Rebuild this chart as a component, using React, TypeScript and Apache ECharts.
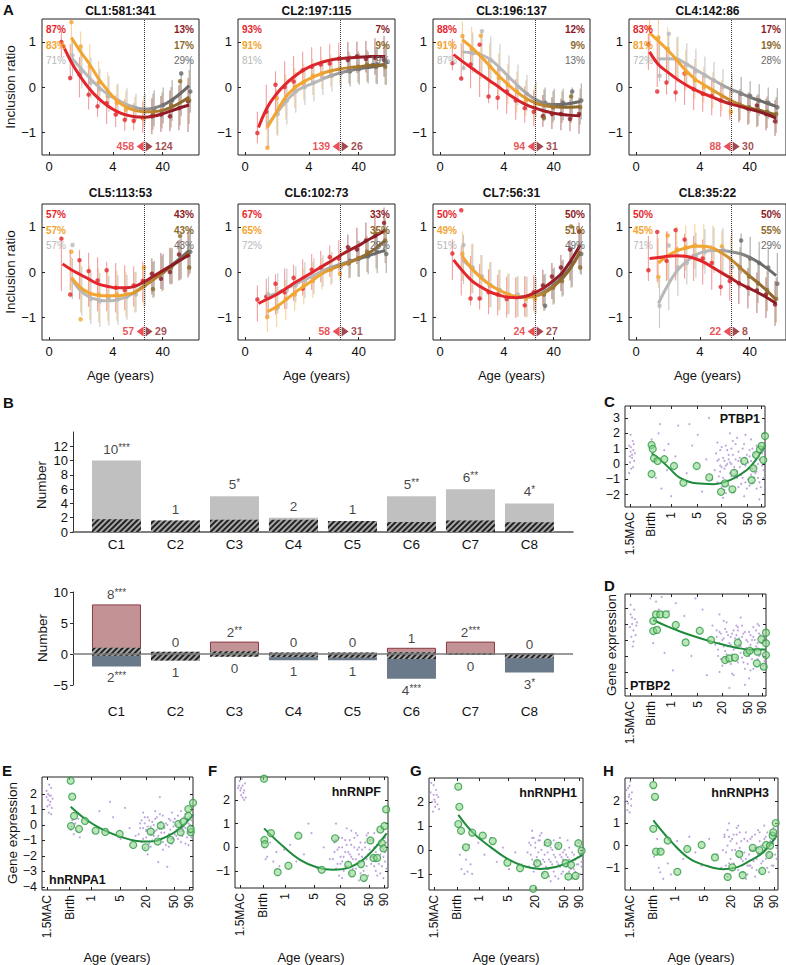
import React, { useEffect, useRef } from "react";
import * as echarts from "echarts";

const FONT = '"Liberation Sans", Arial, Helvetica, sans-serif';

// ================= Panel A data =================
const binAges = [0.008, 0.06, 0.24, 0.66, 1.46, 2.86, 5.06, 8.35, 13.0, 19.4, 28.0, 39.1, 53.1, 70.7, 92.4];
const splitAge = 20;
const ageTickValues = [0, 4, 40];
const clTitles = ["CL1:581:341", "CL2:197:115", "CL3:196:137", "CL4:142:86", "CL5:113:53", "CL6:102:73", "CL7:56:31", "CL8:35:22"];
const pctDev = [[87, 83, 71], [93, 91, 81], [88, 91, 87], [83, 81, 72], [57, 57, 57], [67, 65, 72], [50, 49, 51], [50, 45, 71]];
const pctAge = [[13, 17, 29], [7, 9, 19], [12, 9, 13], [17, 19, 28], [43, 43, 43], [33, 35, 28], [50, 51, 49], [50, 55, 29]];
const countDev = [458, 139, 94, 88, 57, 58, 24, 22];
const countAge = [124, 26, 31, 30, 29, 31, 27, 8];

const cl1Red = [0.95, 0.55, 0.22, -0.05, -0.26, -0.42, -0.54, -0.62, -0.66, -0.67, -0.65, -0.6, -0.53, -0.46, -0.4];
const cl1Orange = [null, 1.1, 0.78, 0.5, 0.18, -0.08, -0.3, -0.44, -0.52, -0.55, -0.55, -0.52, -0.45, -0.35, -0.22];
const cl1Gray = [null, 0.65, 0.42, 0.2, 0.0, -0.16, -0.28, -0.38, -0.45, -0.49, -0.47, -0.41, -0.3, -0.15, 0.03];
const cl1RedDots = [1.0, 0.2, 0.27, -0.17, -0.43, -0.36, -0.61, -0.73, -0.75, -0.69, -0.65, -0.61, -0.65, -0.47, -0.32];
const cl1OrangeDots = [null, 1.44, 0.9, 0.45, 0.1, -0.2, -0.35, -0.5, -0.5, -0.7, -0.6, -0.55, -0.4, 0.13, -0.3];
const cl1GrayDots = [null, 0.7, 0.35, 0.1, -0.05, -0.2, -0.3, -0.45, -0.5, -0.55, -0.5, -0.4, -0.3, 0.3, -0.1];
const cl1Err = [0.3, 0.4, 0.45, 0.45, 0.4, 0.4, 0.35, 0.35, 0.3, 0.35, 0.4, 0.4, 0.45, 0.5, 0.6];

const cl2Red = [-0.9, -0.45, -0.15, 0.07, 0.24, 0.38, 0.48, 0.55, 0.6, 0.63, 0.65, 0.66, 0.67, 0.68, 0.68];
const cl2Orange = [null, -0.9, -0.55, -0.22, -0.02, 0.12, 0.22, 0.3, 0.36, 0.4, 0.43, 0.45, 0.47, 0.48, 0.5];
const cl2Gray = [null, -0.85, -0.58, -0.33, -0.12, 0.0, 0.08, 0.17, 0.25, 0.31, 0.36, 0.4, 0.43, 0.46, 0.5];
const cl2RedDots = [-1.02, -0.55, 0.05, 0.0, 0.12, 0.37, 0.45, 0.5, 0.52, 0.63, 0.6, 0.68, 0.62, 0.65, 0.6];
const cl2OrangeDots = [null, -1.35, -0.25, -0.3, 0.0, 0.1, 0.25, 0.3, 0.35, 0.4, 0.4, 0.45, 0.5, 0.45, 0.45];
const cl2GrayDots = [null, -0.8, -0.6, -0.3, -0.1, 0.0, 0.1, 0.2, 0.25, 0.3, 0.35, 0.4, 0.45, 0.5, 0.55];
const cl2Err = [0.35, 0.5, 0.5, 0.5, 0.45, 0.4, 0.4, 0.35, 0.35, 0.35, 0.35, 0.35, 0.35, 0.4, 0.45];

const cl3Red = [0.72, 0.57, 0.42, 0.28, 0.14, 0.0, -0.15, -0.28, -0.39, -0.47, -0.53, -0.58, -0.61, -0.63, -0.64];
const cl3Orange = [null, 1.05, 0.88, 0.68, 0.47, 0.25, 0.06, -0.11, -0.25, -0.35, -0.41, -0.44, -0.45, -0.45, -0.44];
const cl3Gray = [null, 0.78, 0.76, 0.72, 0.62, 0.45, 0.25, 0.05, -0.13, -0.27, -0.36, -0.39, -0.39, -0.36, -0.32];
const cl3RedDots = [0.53, 0.19, 0.5, 0.94, -0.21, -0.24, -0.1, -0.3, -0.47, -0.55, -0.65, -0.6, -0.6, -0.71, -0.6];
const cl3OrangeDots = [null, 1.13, 0.85, 1.14, 0.45, 0.2, 0.05, -0.1, -0.3, -0.45, -0.69, -0.45, -0.4, -0.21, -0.45];
const cl3GrayDots = [null, 0.42, 0.75, 1.24, 0.6, 0.4, 0.2, 0.0, -0.15, -0.3, -0.35, -0.4, -0.35, -0.1, -0.3];
const cl3Err = [0.35, 0.4, 0.45, 0.5, 0.5, 0.5, 0.45, 0.45, 0.4, 0.4, 0.35, 0.35, 0.35, 0.35, 0.4];

const cl4Red = [0.78, 0.5, 0.33, 0.18, 0.05, -0.06, -0.15, -0.23, -0.31, -0.38, -0.43, -0.49, -0.54, -0.61, -0.69];
const cl4Orange = [1.2, 1.02, 0.82, 0.6, 0.37, 0.18, 0.05, -0.07, -0.19, -0.3, -0.39, -0.46, -0.51, -0.56, -0.62];
const cl4Gray = [null, 0.62, 0.63, 0.62, 0.52, 0.4, 0.28, 0.16, 0.05, -0.05, -0.13, -0.22, -0.29, -0.36, -0.43];
const cl4RedDots = [0.95, -0.1, 0.1, -0.12, 0.3, -0.05, -0.15, -0.2, -0.3, -0.35, -0.4, -0.48, -0.41, -0.6, -0.76];
const cl4OrangeDots = [1.33, 1.1, 0.85, 0.6, 0.3, 0.15, 0.0, -0.1, -0.2, -0.55, -0.4, -0.45, -0.5, -0.55, -0.6];
const cl4GrayDots = [null, 0.25, 1.18, 0.6, 0.5, 0.35, 0.25, 0.15, 0.0, -0.1, -0.15, -0.2, -0.3, -0.35, -0.45];
const cl4Err = [0.4, 0.5, 0.5, 0.5, 0.45, 0.45, 0.4, 0.4, 0.35, 0.35, 0.35, 0.35, 0.35, 0.35, 0.4];

const cl5Red = [0.18, 0.05, -0.06, -0.17, -0.27, -0.32, -0.35, -0.35, -0.32, -0.22, -0.1, 0.02, 0.14, 0.26, 0.38];
const cl5Orange = [null, -0.12, -0.35, -0.47, -0.52, -0.53, -0.53, -0.5, -0.45, -0.32, -0.18, -0.03, 0.12, 0.27, 0.43];
const cl5Gray = [null, -0.15, -0.42, -0.56, -0.62, -0.64, -0.62, -0.56, -0.45, -0.3, -0.15, 0.0, 0.14, 0.3, 0.48];
const cl5RedDots = [0.74, -0.5, 0.26, 0.02, -0.19, 0.04, -0.35, -0.4, -0.3, -0.2, -0.04, -0.15, 0.0, 0.39, 0.37];
const cl5OrangeDots = [null, 0.45, -1.05, -0.5, -0.5, -0.55, -0.5, -0.5, -0.45, 0.1, -0.38, 0.0, 0.1, 0.8, 0.1];
const cl5GrayDots = [null, 0.6, -0.4, -0.6, -0.65, -0.6, -0.6, -0.55, -0.5, -0.3, -0.1, 0.0, 0.15, 0.3, 0.45];
const cl5Err = [0.6, 0.45, 0.55, 0.6, 0.6, 0.55, 0.55, 0.5, 0.45, 0.45, 0.4, 0.4, 0.4, 0.45, 0.5];

const cl6Red = [-0.7, -0.6, -0.5, -0.37, -0.24, -0.12, 0.0, 0.12, 0.24, 0.36, 0.48, 0.58, 0.7, 0.81, 0.93];
const cl6Orange = [null, -0.88, -0.77, -0.62, -0.46, -0.32, -0.18, -0.04, 0.06, 0.14, 0.21, 0.3, 0.4, 0.53, 0.7];
const cl6Gray = [null, -0.55, -0.47, -0.37, -0.28, -0.18, -0.09, 0.02, 0.1, 0.17, 0.23, 0.29, 0.35, 0.42, 0.48];
const cl6RedDots = [-0.61, -0.55, -0.26, -0.45, -0.13, -0.37, 0.05, 0.1, 0.33, 0.3, 0.55, 0.5, 0.7, 0.8, 1.09];
const cl6OrangeDots = [null, -1.0, -0.8, -0.6, -0.5, -0.3, -0.2, 0.0, 0.05, -0.04, 0.2, 0.3, 0.45, 0.85, 0.7];
const cl6GrayDots = [null, -0.5, -0.78, -0.4, -0.3, -0.2, -0.1, 0.0, 0.1, 0.11, 0.25, 0.3, 0.35, 0.45, 0.4];
const cl6Err = [0.4, 0.45, 0.45, 0.45, 0.4, 0.4, 0.4, 0.35, 0.35, 0.35, 0.35, 0.4, 0.4, 0.45, 0.5];

const cl7Red = [0.27, 0.03, -0.19, -0.33, -0.44, -0.51, -0.56, -0.57, -0.54, -0.46, -0.35, -0.2, -0.02, 0.26, 0.6];
const cl7Orange = [null, 0.35, 0.08, -0.12, -0.28, -0.4, -0.49, -0.55, -0.56, -0.54, -0.47, -0.33, -0.15, 0.1, 0.46];
const cl7Gray = [null, 0.28, 0.08, -0.12, -0.28, -0.4, -0.49, -0.55, -0.55, -0.52, -0.44, -0.3, -0.12, 0.12, 0.44];
const cl7RedDots = [0.41, 1.37, -0.59, -0.59, -0.45, -0.5, -0.6, -0.55, -0.74, -0.45, -0.3, -0.1, 0.1, 0.5, 0.9];
const cl7OrangeDots = [null, 0.4, 0.1, -0.1, -0.3, -0.4, -0.5, -0.55, -0.6, -0.6, -0.5, -0.35, -0.2, 1.01, 0.1];
const cl7GrayDots = [null, 0.6, 0.1, -0.1, -0.3, -0.4, -0.5, -0.5, -0.55, -0.5, -0.75, -0.3, -0.1, 0.2, 0.4];
const cl7Err = [0.45, 0.55, 0.55, 0.5, 0.5, 0.45, 0.45, 0.45, 0.45, 0.4, 0.4, 0.4, 0.4, 0.45, 0.5];

const cl8Red = [0.3, 0.32, 0.35, 0.36, 0.35, 0.3, 0.22, 0.1, -0.02, -0.14, -0.26, -0.36, -0.46, -0.57, -0.7];
const cl8Orange = [null, 0.2, 0.36, 0.47, 0.53, 0.57, 0.57, 0.53, 0.42, 0.28, 0.1, -0.08, -0.24, -0.42, -0.62];
const cl8Gray = [null, -0.7, -0.3, 0.02, 0.22, 0.37, 0.45, 0.48, 0.48, 0.45, 0.41, 0.33, 0.22, 0.08, -0.08];
const cl8RedDots = [0.04, 0.89, 0.25, 0.93, 0.72, 0.35, 0.3, 0.2, -0.33, -0.2, -0.25, -0.35, -0.41, -0.5, -0.72];
const cl8OrangeDots = [null, -0.11, 0.81, 0.5, 0.55, 0.6, 0.55, 0.5, 0.57, -0.11, 0.1, -0.1, -0.25, -0.4, -0.6];
const cl8GrayDots = [null, -0.75, 0.59, 0.1, 0.2, 0.35, 0.45, 0.5, 0.5, 0.11, 0.7, 0.3, 0.2, 0.1, -0.26];
const cl8Err = [0.5, 0.55, 0.55, 0.55, 0.5, 0.5, 0.5, 0.5, 0.5, 0.5, 0.45, 0.45, 0.45, 0.45, 0.5];

const clCurves = [
  [cl1Red, cl1Orange, cl1Gray], [cl2Red, cl2Orange, cl2Gray], [cl3Red, cl3Orange, cl3Gray], [cl4Red, cl4Orange, cl4Gray],
  [cl5Red, cl5Orange, cl5Gray], [cl6Red, cl6Orange, cl6Gray], [cl7Red, cl7Orange, cl7Gray], [cl8Red, cl8Orange, cl8Gray],
];
const clDots = [
  [cl1RedDots, cl1OrangeDots, cl1GrayDots], [cl2RedDots, cl2OrangeDots, cl2GrayDots], [cl3RedDots, cl3OrangeDots, cl3GrayDots],
  [cl4RedDots, cl4OrangeDots, cl4GrayDots], [cl5RedDots, cl5OrangeDots, cl5GrayDots], [cl6RedDots, cl6OrangeDots, cl6GrayDots],
  [cl7RedDots, cl7OrangeDots, cl7GrayDots], [cl8RedDots, cl8OrangeDots, cl8GrayDots],
];
const clErr = [cl1Err, cl2Err, cl3Err, cl4Err, cl5Err, cl6Err, cl7Err, cl8Err];

// ================= Panel B data =================
const bCats = ["C1", "C2", "C3", "C4", "C5", "C6", "C7", "C8"];
const topCounts = [10, 1, 5, 2, 1, 5, 6, 4];
const topStars = ["***", "", "*", "", "", "**", "**", "*"];
const topExpected = [1.8, 1.6, 1.7, 1.7, 1.55, 1.4, 1.6, 1.35];
const upCounts = [8, 0, 2, 0, 0, 1, 2, 0];
const upStars = ["***", "", "**", "", "", "", "***", ""];
const upExpected = [1.0, 0.35, 0.45, 0.25, 0.25, 0.3, 0.15, 0.05];
const downCounts = [2, 1, 0, 1, 1, 4, 0, 3];
const downStars = ["***", "", "", "", "", "***", "", "*"];
const downExpected = [0.3, 1.05, 0.45, 0.5, 0.6, 0.8, 0.15, 0.7];

// ================= Panels C-H data (x in position units along the age axis, 0-100) =================
const expTickPos = [3.5, 18.3, 32.7, 51.5, 69, 87.5, 97.5];
const expTickLabels = ["1.5MAC", "Birth", "1", "5", "20", "50", "90"];

const cGreen = [19, 1.24, 19.8, 0.98, 20.7, 0.37, 23.3, 0.2, 19, -0.65, 28.1, 0.31, 35, -0.13, 41.7, -1.22, 51.2, -0.13, 60.2, -0.87, 68.6, -1.81, 71.4, -1.26, 76.7, -1.65, 77.9, -0.57, 85.2, 0.2, 90.5, -1.05, 91.7, -0.28, 93.6, 0.59, 96.4, 0.96, 97.6, 1.18, 98.8, 0.26, 100, 1.83];
const cCurveX = [19, 25, 32, 39, 51, 63, 75, 87, 93, 100];
const cCurveY = [0.7, 0.3, -0.3, -0.88, -1.26, -1.31, -1.05, -0.39, 0.2, 1.24];
const cPurple = [3, 1.2, 4, 0.8, 5, 0.4, 3.5, 0.1, 6, 0.9, 4.5, -0.3, 5.5, 1.5, 3, -0.6, 6.5, 0.2, 4, 1.9, 5, 0.6, 7, 0.7, 3.5, 0.5, 5.8, -0.2, 4.2, 1.1, 6.2, 1.3,
  19, 1.6, 22, -0.9, 24, 2.0, 26, -1.6, 28, 0.9, 30, -0.4, 33, -2.1, 36, 0.5, 38, 2.5, 25, 2.6, 21, 0.3, 31, 1.3,
  44, -0.6, 48, 1.2, 55, -1.8, 58, 0.3, 62, -1.0, 46, 2.6, 60, 3.0, 52, 1.9,
  66, 0.2, 67, -0.8, 68, 0.9, 69, -1.5, 70, 0.4, 71, -0.3, 72, 1.2, 73, -1.1, 74, 0.6, 75, -0.6, 76, 0.0, 77, 1.5, 78, -1.8, 79, 0.3, 80, -0.9, 81, 0.8, 82, -0.2, 83, -1.3, 84, 1.0, 85, -0.5, 86, 0.4, 87, -1.6, 88, 0.1, 89, 0.9, 90, -0.7, 91, -1.2, 92, 0.5, 93, -0.2, 94, 1.2, 95, -0.9, 96, 0.3, 97, -1.5, 98, 0.7, 99, -0.4, 70, -2.2, 75, 2.0, 80, 1.7, 85, -2.1, 90, 1.6, 96, -2.3, 68, -0.1, 73, 0.0, 78, -0.4, 83, 0.2, 88, -1.0, 93, -0.6, 72, -1.9, 86, 1.9];
const cPurpleAdult = [64, -0.4, 65, 0.7, 66, -1.2, 67, 0.3, 68, -0.5, 69, 1.1, 70, -0.9, 71, 0.2, 72, -0.1, 73, 0.9, 74, -1.4, 75, 0.1, 76, -0.8, 77, 0.6, 78, -0.2, 79, 1.3, 80, -0.5, 81, -1.5, 82, 0.4, 83, -0.7, 84, 0.0, 85, 1.3, 86, -1.2, 87, 0.6, 88, -0.3, 89, -1.4, 90, 0.2, 91, 1.0, 92, -0.9, 93, 0.7, 94, -0.5, 95, 0.0, 96, -1.2, 97, 0.9, 98, -0.1, 99, -0.9, 66, 1.4, 71, -1.7, 76, 1.0, 81, 0.2, 86, -0.1, 91, -0.3, 96, 1.1, 69, -0.2, 74, 0.3, 79, -0.7, 84, -0.9, 89, 0.5, 94, -1.6, 99, 0.9];

const dGreen = [20, 1.19, 22, 1.6, 25, 1.6, 29, 1.6, 20, 0.56, 22.7, 0.63, 36, 0.94, 43, -0.15, 53, 0.58, 61, 0.0, 71, -1.25, 74, -1.15, 78, -1.1, 80, -0.17, 86.5, -0.8, 88.5, -0.67, 93.5, -1.46, 94, -0.73, 96.7, 0.04, 98.4, -1.67, 100, -0.2, 100, 0.46, 100, -0.94];
const dCurveX = [20, 30, 40, 50, 60, 70, 80, 90, 100];
const dCurveY = [1.25, 0.85, 0.5, 0.2, -0.07, -0.3, -0.5, -0.6, -0.6];
const dPurple = [4, 1.6, 5, 1.0, 6, 0.6, 7, 1.3, 4.5, 0.2, 8, 0.9, 5.5, -0.4, 6.5, 1.9, 3.5, 0.8, 7.5, 0.3, 5, 1.4, 6, -0.1, 8.5, 1.1, 4, 2.2,
  18, 2.6, 22, 2.4, 26, 2.7, 24, 1.9, 28, -0.8, 31, 1.8, 34, -1.9, 20, -0.2, 29, -2.6, 36, 2.3, 42, 1.5, 47, -1.0, 55, 1.9, 58, -2.2, 62, 0.9, 50, 2.6,
  65, 0.2, 66, -0.6, 67, 0.5, 68, -1.2, 69, 0.0, 70, -0.4, 71, 0.7, 72, -0.9, 73, 0.3, 74, -0.2, 75, -1.5, 76, 0.4, 77, -0.6, 78, 0.1, 79, -1.1, 80, 0.6, 81, -0.3, 82, -0.8, 83, 0.2, 84, -1.4, 85, 0.5, 86, -0.5, 87, -0.1, 88, -1.0, 89, 0.3, 90, -0.7, 91, -1.8, 92, 0.0, 93, -0.4, 94, -1.2, 95, 0.4, 96, -0.9, 97, -0.2, 98, -1.6, 99, 0.2, 70, 1.2, 76, -2.1, 82, 1.4, 88, -2.4, 94, 1.0, 74, -3.0, 85, -2.8, 67, 1.6, 79, 0.9, 91, 0.8];
const dPurpleAdult = [64, -0.3, 65, 0.6, 66, -1.0, 67, -0.2, 68, 0.4, 69, -1.6, 70, 0.1, 71, -0.7, 72, 0.5, 73, -0.4, 74, -1.3, 75, 0.2, 76, -0.9, 77, 0.6, 78, -0.5, 79, 0.3, 80, -1.4, 81, 0.1, 82, -0.4, 83, -1.1, 84, 0.4, 85, -0.8, 86, 0.0, 87, -1.5, 88, 0.5, 89, -0.3, 90, -1.2, 91, 0.2, 92, -0.7, 93, 0.6, 94, -0.2, 95, -1.0, 96, 0.3, 97, -0.6, 98, 0.0, 99, -1.3, 67, -2.0, 72, 1.1, 77, -2.2, 83, 0.9, 89, -1.9, 95, 0.9, 70, -1.1, 75, -0.3, 80, 0.8, 85, -1.8, 90, 0.0, 97, -1.8];

const eGreen = [19, 2.86, 20, 1.83, 21.2, 0.58, 19.2, -0.07, 24.5, -0.26, 28.5, 0.26, 35.5, -0.37, 41.9, -0.45, 51.4, -0.58, 60.4, -1.29, 68.6, -1.44, 72, -0.43, 76.6, -1.07, 78.6, -0.04, 85.2, -0.97, 90.3, 0.06, 91.8, -0.47, 93.6, 0.21, 96.9, 1.03, 96.9, 0.58, 98.5, -0.47, 98.5, -0.26, 100, 1.44];
const eCurveX = [19, 29.6, 40.6, 51.6, 62.7, 71.5, 82.5, 91.4, 100];
const eCurveY = [1.18, 0.32, -0.32, -0.75, -1.03, -1.07, -0.75, -0.21, 0.65];
const ePurple = [3, 2.2, 4, 1.6, 5, 1.9, 3.5, 1.2, 6, 2.4, 4.5, 0.8, 5.5, 1.5, 6.5, 1.1, 4, 2.0, 5, 1.3, 7, 1.7, 3, 1.8, 6, 0.7, 4.8, 2.6, 5.8, 1.9,
  19, -0.3, 20, 0.3, 21, -0.6, 22, 0.1, 23, -0.4, 24, 0.4, 19.5, -0.1, 25, -0.8,
  30, 0.2, 34, -0.5, 38, 0.9, 43, -0.3, 47, 0.5, 52, -0.9, 55, 1.1, 58, -0.2, 62, -0.7, 45, 1.5,
  65, -0.2, 66, 0.3, 67, -0.9, 68, 0.1, 69, -0.4, 70, 0.5, 71, -1.2, 72, -0.1, 73, 0.2, 74, -0.7, 75, 0.4, 76, -0.3, 77, -1.0, 78, 0.1, 79, -0.5, 80, 0.6, 81, -0.2, 82, -1.3, 83, 0.0, 84, -0.6, 85, 0.3, 86, -0.9, 87, -0.1, 88, 0.4, 89, -0.7, 90, -0.3, 91, 0.2, 92, -1.1, 93, -0.4, 94, 0.5, 95, -0.2, 96, -0.8, 97, 0.1, 98, -0.5, 99, 0.3, 68, -1.5, 75, 0.9, 80, -1.6, 86, 0.8, 92, 0.9, 97, -1.3,
  77, -2.4, 83, -2.7, 78, 1.8, 70, -1.9];
const ePurpleAdult = [64, -0.6, 65, 0.1, 66, -1.1, 67, -0.2, 68, 0.5, 69, -0.8, 70, -0.1, 71, 0.3, 72, -0.6, 73, -1.0, 74, 0.0, 75, -0.4, 76, 0.5, 77, -0.7, 78, -0.2, 79, 0.2, 80, -1.1, 81, -0.5, 82, 0.1, 83, -0.8, 84, 0.4, 85, -0.3, 86, -1.2, 87, 0.2, 88, -0.6, 89, 0.0, 90, -0.9, 91, -0.4, 92, 0.3, 93, -0.7, 94, -0.1, 95, -1.2, 96, 0.4, 97, -0.5, 98, 0.0, 99, -0.8, 67, 0.8, 72, -1.4, 78, 0.7, 84, -1.4, 90, 0.6, 95, 0.7, 69, -0.3, 74, -0.5, 81, -0.1, 87, -0.9, 93, -0.2, 99, -0.1];

const fGreen = [19, 2.9, 19.2, 0.31, 19.5, 0.13, 23.5, 0.6, 27.9, -1.05, 34.9, -0.78, 41.4, 0.49, 56.7, -0.95, 65.4, 0.38, 74, -0.74, 76.5, -1.1, 82.4, -0.71, 84.2, -1.3, 88.5, 0.29, 90.5, -0.45, 92.9, -0.45, 95, 0.75, 96, 0.18, 97, -0.05, 97.7, 0.9, 98.8, 1.6];
const fCurveX = [19, 31.6, 42.5, 53.4, 64.3, 75.2, 86.1, 99.1];
const fCurveY = [0.8, 0.03, -0.53, -0.84, -0.95, -0.84, -0.39, 0.59];
const fPurple = [2, 2.5, 3, 2.8, 4, 2.2, 5, 2.6, 6, 2.0, 3.5, 2.4, 4.5, 2.9, 5.5, 2.3, 6.5, 2.7, 7, 2.1, 2.5, 2.6, 4, 2.5, 5, 2.1, 6, 2.4,
  19, 0.0, 21, -0.4, 23, 0.2, 25, -0.6, 27, -0.2, 29, -0.8, 20, -0.5, 32, -0.1,
  36, 0.1, 40, -0.6, 45, -0.3, 50, 0.6, 54, -0.9, 58, 0.0, 62, -0.5, 48, 1.0,
  65, -0.2, 66, 0.3, 67, -0.7, 68, 0.0, 69, -0.4, 70, 0.4, 71, -1.0, 72, -0.2, 73, 0.1, 74, -0.6, 75, 0.3, 76, -0.4, 77, -0.9, 78, 0.0, 79, -0.5, 80, 0.5, 81, -0.3, 82, -1.1, 83, -0.1, 84, -0.6, 85, 0.2, 86, -0.8, 87, -0.3, 88, 0.3, 89, -0.7, 90, -0.4, 91, 0.0, 92, -1.0, 93, -0.5, 94, 0.1, 95, -0.3, 96, -0.8, 97, -0.1, 98, -0.6, 99, 0.2, 70, -1.3, 76, 0.7, 81, -1.4, 87, 0.6, 93, -1.2, 66, 1.0];
const fPurpleAdult = [64, -0.5, 65, 0.2, 66, -0.9, 67, -0.1, 68, 0.4, 69, -0.7, 70, 0.0, 71, -0.4, 72, 0.3, 73, -0.8, 74, -0.2, 75, -1.1, 76, 0.1, 77, -0.5, 78, 0.4, 79, -0.9, 80, -0.1, 81, -0.6, 82, 0.2, 83, -0.4, 84, -1.0, 85, 0.0, 86, -0.5, 87, -1.2, 88, -0.1, 89, -0.4, 90, 0.3, 91, -0.8, 92, -0.2, 93, 0.1, 94, -0.7, 95, -1.1, 96, 0.0, 97, -0.4, 98, 0.4, 99, -0.9, 68, -1.2, 73, 0.8, 79, 0.6, 85, -1.4, 91, 0.6, 97, -1.3, 70, -0.6, 75, -0.3, 81, 0.0, 86, 0.5, 92, -0.6, 98, -0.2];

const gGreen = [19, 2.64, 19.7, 1.8, 19, 1.08, 20.8, 0.8, 24, 0.11, 28.1, 0.72, 34.9, 0.6, 41.4, 0.37, 50.9, -0.53, 59.1, -0.76, 67.7, -1.62, 70.3, -0.55, 75.3, -1.04, 77.1, 0.3, 84, 0.17, 88.7, -0.55, 90.5, -1.11, 92.2, -0.62, 95.2, -1.08, 97, 0.28, 99.1, -0.03];
const gCurveX = [19, 28.8, 39.6, 50.4, 61.3, 72.1, 82.9, 91.6, 99.8];
const gCurveY = [1.46, 0.7, 0.14, -0.35, -0.67, -0.79, -0.7, -0.49, -0.21];
const gPurple = [1, 2.4, 2, 2.0, 3, 2.7, 4, 1.8, 5, 2.3, 2.5, 1.6, 3.5, 2.1, 4.5, 2.5, 5.5, 1.9, 6, 2.2, 1.5, 2.8, 3, 2.3, 4, 2.0, 6.5, 1.7,
  20, -0.2, 21, -0.8, 22, 0.1, 23, -1.0, 24, -0.4, 25, -0.9, 26, 0.2, 27, -0.6, 28, -1.0,
  32, 0.3, 36, -0.2, 40, 0.5, 44, -0.5, 48, 0.1, 52, -0.8, 56, -0.1, 60, -0.6,
  65, 0.3, 66, -0.2, 67, 0.5, 68, -0.6, 69, 0.1, 70, -0.3, 71, 0.4, 72, -0.8, 73, 0.0, 74, -0.4, 75, 0.2, 76, -0.7, 77, -0.1, 78, 0.3, 79, -0.5, 80, 0.0, 81, -0.9, 82, -0.3, 83, 0.1, 84, -0.6, 85, -0.2, 86, -1.0, 87, -0.4, 88, 0.0, 89, -0.7, 90, -0.3, 91, -0.9, 92, -0.5, 93, -0.1, 94, -0.8, 95, -0.4, 96, -1.1, 97, -0.6, 98, -0.2, 99, -0.7, 68, 0.5, 72, 0.6, 78, -1.1, 84, -1.2, 90, 0.4, 95, 0.2];
const gPurpleAdult = [64, -0.1, 65, -0.7, 66, 0.2, 67, -0.4, 68, -0.9, 69, 0.3, 70, -0.5, 71, -0.1, 72, 0.4, 73, -0.6, 74, -1.0, 75, -0.2, 76, 0.3, 77, -0.8, 78, -0.4, 79, 0.1, 80, -0.6, 81, -0.2, 82, -1.1, 83, -0.5, 84, 0.2, 85, -0.7, 86, -0.3, 87, -0.9, 88, -0.6, 89, -0.2, 90, -1.0, 91, -0.4, 92, -0.8, 93, -0.5, 94, -0.2, 95, -0.9, 96, -0.6, 97, -0.3, 98, -1.0, 99, -0.5, 67, 0.8, 73, 0.7, 79, -1.3, 85, 0.5, 91, 0.1, 97, 0.3, 69, -0.7, 75, -0.5, 81, 0.4, 87, -0.1, 93, -1.2, 99, -0.1];

const hGreen = [18.5, 2.73, 19.6, 2.2, 18.5, 0.76, 20.3, -0.27, 23.3, -0.27, 27.9, 0.23, 34.2, -1.18, 40.7, -0.15, 50.1, 0.03, 58.8, -0.53, 67.1, -1.41, 70.1, -0.98, 74.7, -0.38, 76.9, -1.33, 83.5, -0.1, 87.8, -0.2, 89.7, -1.14, 92.2, 0.03, 94.3, -0.42, 94.8, 0.0, 96.5, 0.45, 96.9, 0.6, 98.5, 1.02];
const hCurveX = [18.5, 31.6, 42.5, 53.4, 64.3, 73, 81.7, 90.4, 99.1];
const hCurveY = [1.14, 0.08, -0.6, -0.91, -1.06, -0.98, -0.68, -0.3, 0.45];
const hPurple = [1, 2.5, 2, 1.9, 3, 2.7, 1.5, 1.6, 2.5, 2.2, 3.5, 2.9, 4, 1.8, 4.5, 2.4, 1, 2.0, 2, 2.6, 3, 1.5, 4, 2.1, 2.8, 2.3,
  19, -0.5, 21, 0.3, 22, -1.0, 24, -0.2, 25, -1.5, 26, 0.5, 28, -0.8, 30, -1.3, 23, -1.2,
  34, 0.2, 38, -0.6, 42, 0.4, 46, -0.3, 50, -0.9, 55, 0.3, 60, -0.4, 63, -1.0,
  65, 0.4, 66, -0.3, 67, 0.7, 68, -0.8, 69, 0.2, 70, -0.2, 71, 0.5, 72, -1.0, 73, 0.1, 74, -0.5, 75, 0.6, 76, -0.3, 77, -1.2, 78, 0.3, 79, -0.6, 80, 0.2, 81, -0.9, 82, -0.2, 83, 0.4, 84, -0.7, 85, -0.1, 86, -1.1, 87, -0.4, 88, 0.2, 89, -0.8, 90, -0.3, 91, 0.3, 92, -0.6, 93, -1.0, 94, 0.0, 95, -0.5, 96, -0.9, 97, 0.1, 98, -0.4, 99, 0.5, 67, -1.4, 73, 0.8, 80, -1.3, 87, 0.7, 93, 0.6];
const hPurpleAdult = [64, -0.2, 65, 0.5, 66, -0.9, 67, 0.0, 68, 0.4, 69, -0.6, 70, 0.3, 71, -0.8, 72, -0.2, 73, 0.5, 74, -1.1, 75, -0.1, 76, 0.2, 77, -0.7, 78, -0.3, 79, 0.6, 80, -0.9, 81, -0.4, 82, 0.3, 83, -1.0, 84, -0.2, 85, 0.5, 86, -0.6, 87, -0.1, 88, -1.2, 89, 0.0, 90, -0.7, 91, -0.2, 92, 0.4, 93, -0.4, 94, -1.2, 95, 0.2, 96, -0.4, 97, -0.9, 98, 0.3, 99, -0.6, 68, 1.0, 74, 0.9, 79, -1.5, 85, -1.4, 91, 0.9, 97, 0.8, 70, -1.1, 76, -0.6, 82, -0.9, 88, 0.6, 94, -0.3, 99, -0.1];

// ================= styling =================
const devColors = ["#e4262c", "#f2a531", "#b8b8b8"];
const ageColors = ["#8b1a24", "#8d6a2c", "#6a6a6a"];
const errColors = [
  "rgba(228,38,44,0.45)", "rgba(139,26,36,0.55)",
  "rgba(242,165,49,0.5)", "rgba(141,106,44,0.55)",
  "rgba(165,165,165,0.6)", "rgba(100,100,100,0.55)",
];

const q = (a: number) => Math.pow(a, 0.25);
const pairs = (flat: number[]) => {
  const out: number[][] = [];
  for (let i = 0; i < flat.length; i += 2) out.push([flat[i], flat[i + 1]]);
  return out;
};
const minus = (v: number) => (v < 0 ? "\u2212" + Math.abs(v) : String(v));

function buildOption() {
  const grid: any[] = [];
  const xAxis: any[] = [];
  const yAxis: any[] = [];
  const series: any[] = [];
  const graphic: any[] = [];

  const txt = (text: string, x: number, y: number, o: any = {}) =>
    graphic.push({
      type: "text", x, y, rotation: o.rot || 0, silent: true, z: 100,
      style: {
        text, fill: o.color || "#111",
        font: `${o.bold ? "bold " : ""}${o.size || 13}px ${FONT}`,
        textAlign: o.align || "center", textVerticalAlign: "middle",
        align: o.align || "center", verticalAlign: "middle",
      },
    });

  const axisFont = { fontFamily: FONT, color: "#111" };
  const noLine = { show: false, onZero: false };

  // ---------------- Panel A ----------------
  const aCols = [42, 238, 433, 629];
  const aRows = [19, 204];
  const titleGap = [8, 11];
  const aW = 157, aH = 136;
  const tickT = ageTickValues.map(q);
  const t20 = q(splitAge);
  const offs = [-0.025, 0, 0.025];

  for (let i = 0; i < 8; i++) {
    const L = aCols[i % 4];
    const r = Math.floor(i / 4);
    const T = aRows[r];
    const gi = grid.length;
    grid.push({ left: L, top: T, width: aW, height: aH, show: true, borderColor: "#222", borderWidth: 1, backgroundColor: "transparent" });
    const xi = xAxis.length;
    xAxis.push({
      type: "value", gridIndex: gi, min: -0.155, max: 3.318, position: "bottom",
      axisLine: noLine, splitLine: { show: false },
      axisTick: { show: true, inside: true, length: 3, customValues: tickT, lineStyle: { color: "#222" } },
      axisLabel: { customValues: tickT, formatter: (v: number) => String(Math.round(Math.pow(v, 4))), fontSize: 13, margin: 5, ...axisFont },
    });
    const yi = yAxis.length;
    yAxis.push({
      type: "value", gridIndex: gi, min: -1.51, max: 1.51, position: "left",
      axisLine: noLine, splitLine: { show: false },
      axisTick: { show: true, inside: true, length: 3, customValues: [-1, 0, 1], lineStyle: { color: "#222" } },
      axisLabel: { customValues: [-1, 0, 1], formatter: minus, fontSize: 13, margin: 6, ...axisFont },
    });

    const curves = clCurves[i], dots = clDots[i], err = clErr[i];
    const errData: any[] = [];
    const dotData: any[] = [];
    for (let s = 0; s < 3; s++) {
      binAges.forEach((a, j) => {
        const late = a >= splitAge ? 1 : 0;
        const t = q(a) + offs[s];
        const c = curves[s][j];
        if (c != null) errData.push([t, c - err[j], c + err[j], s * 2 + late]);
        const d = dots[s][j];
        if (d != null) dotData.push({ value: [t, d], itemStyle: { color: late ? ageColors[s] : devColors[s] } });
      });
    }
    series.push({
      type: "custom", xAxisIndex: xi, yAxisIndex: yi, z: 1, silent: true, clip: true,
      encode: { x: 0, y: [1, 2] },
      data: errData,
      renderItem: (params: any, api: any) => {
        const x = api.value(0), lo = api.value(1), hi = api.value(2), c = api.value(3);
        const p1 = api.coord([x, lo]);
        const p2 = api.coord([x, hi]);
        return { type: "line", shape: { x1: p1[0], y1: p1[1], x2: p2[0], y2: p2[1] }, style: { stroke: errColors[c], lineWidth: 1.1 } };
      },
    });
    series.push({
      type: "scatter", xAxisIndex: xi, yAxisIndex: yi, z: 2, silent: true,
      symbol: "circle", symbolSize: 4.5, data: dotData,
    });
    [2, 1, 0].forEach((s) => {
      const data: number[][] = [];
      binAges.forEach((a, j) => {
        const c = curves[s][j];
        if (c != null) data.push([q(a), c]);
      });
      series.push({
        type: "line", xAxisIndex: xi, yAxisIndex: yi, z: 3, silent: true,
        smooth: 0.4, showSymbol: false, symbol: "none", data,
        lineStyle: {
          width: 3,
          color: new echarts.graphic.LinearGradient(0, 0, 1, 0, [
            { offset: 0, color: devColors[s] }, { offset: 0.45, color: devColors[s] },
            { offset: 0.85, color: ageColors[s] }, { offset: 1, color: ageColors[s] },
          ]),
        },
      });
    });
    const yTri = -1.32;
    series.push({
      type: "scatter", xAxisIndex: xi, yAxisIndex: yi, z: 5, silent: true,
      data: [
        { value: [t20, yTri], symbol: "triangle", symbolRotate: 90, symbolSize: [10, 7], symbolOffset: [-4.5, 0], itemStyle: { color: devColors[0] } },
        { value: [t20, yTri], symbol: "triangle", symbolRotate: -90, symbolSize: [10, 7], symbolOffset: [4.5, 0], itemStyle: { color: ageColors[0] } },
      ],
      markLine: {
        silent: true, symbol: ["none", "none"], label: { show: false },
        lineStyle: { type: "dotted", color: "#333", width: 1 },
        data: [{ xAxis: t20 }],
      },
    });
    series.push({
      type: "scatter", xAxisIndex: xi, yAxisIndex: yi, z: 6, silent: true,
      symbolSize: 1, itemStyle: { color: "transparent" },
      data: [
        { value: [t20, yTri], label: { show: true, position: "left", distance: 10, formatter: String(countDev[i]), color: devColors[0], fontWeight: "bold", fontSize: 10.5, fontFamily: FONT } },
        { value: [t20, yTri], label: { show: true, position: "right", distance: 10, formatter: String(countAge[i]), color: ageColors[0], fontWeight: "bold", fontSize: 10.5, fontFamily: FONT } },
      ],
    });

    // texts
    txt(clTitles[i], L + aW / 2, T - titleGap[r], { bold: true, size: 12 });
    [10, 26, 41].forEach((dy, s) => {
      txt(pctDev[i][s] + "%", L + 4, T + dy, { align: "left", size: 10, bold: s < 2, color: devColors[s] });
      txt(pctAge[i][s] + "%", L + aW - 5, T + dy, { align: "right", size: 10, bold: s < 2, color: ageColors[s] });
    });
    if (i >= 4) txt("Age (years)", L + aW / 2, 375, { size: 13 });
  }
  txt("Inclusion ratio", 10, 87, { rot: Math.PI / 2, size: 13.5 });
  txt("Inclusion ratio", 10, 272, { rot: Math.PI / 2, size: 13.5 });

  // ---------------- Panel B ----------------
  const hatch = {
    symbol: "rect", symbolSize: 1, dashArrayX: [1, 0], dashArrayY: [1.1, 1.9],
    rotation: -Math.PI / 4, color: "#222", backgroundColor: "#a8a8a8",
  };
  const barX = { min: 0.263, max: 8.738 };
  const richLab = {
    a: { fontSize: 13.5, fontFamily: FONT, color: "#111" },
    s: { fontSize: 10, fontFamily: FONT, color: "#111", verticalAlign: "top" },
  };
  const labFmt = (p: any) => `{a|${p.data.lab}}` + (p.data.star ? `{s|${p.data.star}}` : "");

  // top
  {
    const gi = grid.length;
    grid.push({ left: 73, top: 432, width: 500, height: 100 });
    const xi = xAxis.length;
    xAxis.push({
      type: "value", gridIndex: gi, ...barX, splitLine: { show: false },
      axisLine: { show: true, onZero: false, lineStyle: { color: "#555", width: 1.5 } },
      axisTick: { show: false },
      axisLabel: { customValues: [1, 2, 3, 4, 5, 6, 7, 8], formatter: (v: number) => bCats[Math.round(v) - 1], fontSize: 13.5, margin: 5, ...axisFont },
    });
    const yi = yAxis.length;
    yAxis.push({
      type: "value", gridIndex: gi, min: 0, max: 14, splitLine: { show: false },
      axisLine: { show: true, onZero: false, lineStyle: { color: "#333" } },
      axisTick: { show: true, inside: false, length: 3, customValues: [0, 2, 4, 6, 8, 10, 12], lineStyle: { color: "#333" } },
      axisLabel: { customValues: [0, 2, 4, 6, 8, 10, 12], fontSize: 13, margin: 5, ...axisFont },
    });
    series.push({
      type: "bar", xAxisIndex: xi, yAxisIndex: yi, barWidth: 49, barGap: "-100%", z: 2, silent: true,
      itemStyle: { color: "#c0c0c0" }, data: topCounts.map((v, i) => [i + 1, v]),
    });
    series.push({
      type: "bar", xAxisIndex: xi, yAxisIndex: yi, barWidth: 49, barGap: "-100%", z: 3, silent: true,
      itemStyle: { color: "#a8a8a8", decal: hatch }, data: topExpected.map((v, i) => [i + 1, v]),
    });
    series.push({
      type: "scatter", xAxisIndex: xi, yAxisIndex: yi, z: 5, silent: true, symbolSize: 1, itemStyle: { color: "transparent" },
      label: { show: true, position: "top", distance: 4, formatter: labFmt, rich: richLab },
      data: topCounts.map((v, i) => ({ value: [i + 1, Math.max(v, topExpected[i])], lab: String(v), star: topStars[i] })),
    });
  }
  // bottom
  {
    const gi = grid.length;
    grid.push({ left: 73, top: 592, width: 500, height: 93 });
    const xi = xAxis.length;
    xAxis.push({
      type: "value", gridIndex: gi, ...barX, splitLine: { show: false },
      axisLine: { show: false, onZero: false }, axisTick: { show: false },
      axisLabel: { customValues: [1, 2, 3, 4, 5, 6, 7, 8], formatter: (v: number) => bCats[Math.round(v) - 1], fontSize: 13.5, margin: 19, ...axisFont },
    });
    const yi = yAxis.length;
    yAxis.push({
      type: "value", gridIndex: gi, min: -5, max: 10, splitLine: { show: false },
      axisLine: { show: true, onZero: false, lineStyle: { color: "#333" } },
      axisTick: { show: true, inside: false, length: 3, customValues: [-5, 0, 5, 10], lineStyle: { color: "#333" } },
      axisLabel: { customValues: [-5, 0, 5, 10], formatter: minus, fontSize: 13, margin: 5, ...axisFont },
    });
    series.push({
      type: "bar", xAxisIndex: xi, yAxisIndex: yi, barWidth: 49, barGap: "-100%", z: 2, silent: true,
      itemStyle: { color: "#c39294", borderColor: "#8c3a47", borderWidth: 1 }, data: upCounts.map((v, i) => [i + 1, v]),
    });
    series.push({
      type: "bar", xAxisIndex: xi, yAxisIndex: yi, barWidth: 49, barGap: "-100%", z: 2, silent: true,
      itemStyle: { color: "#6b7a8a" }, data: downCounts.map((v, i) => [i + 1, -v]),
    });
    series.push({
      type: "bar", xAxisIndex: xi, yAxisIndex: yi, barWidth: 49, barGap: "-100%", z: 3, silent: true,
      itemStyle: { color: "#a8a8a8", decal: hatch }, data: upExpected.map((v, i) => [i + 1, v]),
    });
    series.push({
      type: "bar", xAxisIndex: xi, yAxisIndex: yi, barWidth: 49, barGap: "-100%", z: 3, silent: true,
      itemStyle: { color: "#a8a8a8", decal: hatch }, data: downExpected.map((v, i) => [i + 1, -v]),
    });
    series.push({
      type: "scatter", xAxisIndex: xi, yAxisIndex: yi, z: 5, silent: true, symbolSize: 1, itemStyle: { color: "transparent" },
      label: { show: true, position: "top", distance: 2, formatter: labFmt, rich: richLab },
      data: upCounts.map((v, i) => ({ value: [i + 1, Math.max(v, upExpected[i])], lab: String(v), star: upStars[i] })),
      markLine: {
        silent: true, symbol: ["none", "none"], label: { show: false },
        lineStyle: { type: "solid", color: "#7a7a7a", width: 1.5 }, data: [{ yAxis: 0 }],
      },
    });
    series.push({
      type: "scatter", xAxisIndex: xi, yAxisIndex: yi, z: 5, silent: true, symbolSize: 1, itemStyle: { color: "transparent" },
      label: { show: true, position: "bottom", distance: 4, formatter: labFmt, rich: richLab },
      data: downCounts.map((v, i) => ({ value: [i + 1, -Math.max(v, downExpected[i])], lab: String(v), star: downStars[i] })),
    });
  }
  txt("Number", 41, 485, { rot: Math.PI / 2, size: 13.5 });
  txt("Number", 42, 638, { rot: Math.PI / 2, size: 13.5 });

  // ---------------- Panels C-H ----------------
  const genePanels = [
    { name: "PTBP1", left: 625, top: 406, width: 140, height: 101, ymin: -2.8, ymax: 3.78, yTicks: [-2, -1, 0, 1, 2, 3], yLabels: true, nx: 760, ny: 419, na: "right", green: cGreen, cx: cCurveX, cy: cCurveY, purple: cPurple.concat(cPurpleAdult) },
    { name: "PTBP2", left: 625, top: 594, width: 141, height: 102, ymin: -3.5, ymax: 2.875, yTicks: [-3, -2, -1, 0, 1, 2], yLabels: false, nx: 630, ny: 686, na: "left", green: dGreen, cx: dCurveX, cy: dCurveY, purple: dPurple.concat(dPurpleAdult) },
    { name: "hnRNPA1", left: 42, top: 777, width: 151, height: 113, ymin: -4.2, ymax: 3.1, yTicks: [-4, -3, -2, -1, 0, 1, 2], yLabels: true, nx: 49, ny: 880, na: "left", green: eGreen, cx: eCurveX, cy: eCurveY, purple: ePurple.concat(ePurpleAdult) },
    { name: "hnRNPF", left: 235, top: 777, width: 153, height: 111, ymin: -1.72, ymax: 2.97, yTicks: [-1, 0, 1, 2], yLabels: true, nx: 381, ny: 792, na: "right", green: fGreen, cx: fCurveX, cy: fCurveY, purple: fPurple.concat(fPurpleAdult) },
    { name: "hnRNPH1", left: 429, top: 778, width: 154, height: 112, ymin: -1.67, ymax: 3.0, yTicks: [-1, 0, 1, 2], yLabels: true, nx: 577, ny: 793, na: "right", green: gGreen, cx: gCurveX, cy: gCurveY, purple: gPurple.concat(gPurpleAdult) },
    { name: "hnRNPH3", left: 625, top: 778, width: 153, height: 112, ymin: -2.0, ymax: 3.05, yTicks: [-1, 0, 1, 2], yLabels: true, nx: 769, ny: 793, na: "right", green: hGreen, cx: hCurveX, cy: hCurveY, purple: hPurple.concat(hPurpleAdult) },
  ];
  const expFmt = (v: number) => {
    let k = 0, best = 1e9;
    expTickPos.forEach((p, i) => { const d = Math.abs(p - v); if (d < best) { best = d; k = i; } });
    return expTickLabels[k];
  };
  genePanels.forEach((P) => {
    const gi = grid.length;
    grid.push({ left: P.left, top: P.top, width: P.width, height: P.height, show: true, borderColor: "#222", borderWidth: 1, backgroundColor: "transparent" });
    const tickStyle = { show: true, inside: true, length: 3, lineStyle: { color: "#222" } };
    const xi = xAxis.length;
    xAxis.push({
      type: "value", gridIndex: gi, min: 0, max: 100, position: "bottom",
      axisLine: noLine, splitLine: { show: false },
      axisTick: { ...tickStyle, customValues: expTickPos },
      axisLabel: { customValues: expTickPos, formatter: expFmt, rotate: 90, fontSize: 12, margin: 5, ...axisFont },
    });
    xAxis.push({
      type: "value", gridIndex: gi, min: 0, max: 100, position: "top",
      axisLine: noLine, splitLine: { show: false },
      axisTick: { ...tickStyle, customValues: expTickPos }, axisLabel: { show: false },
    });
    const yi = yAxis.length;
    yAxis.push({
      type: "value", gridIndex: gi, min: P.ymin, max: P.ymax, position: "left",
      axisLine: noLine, splitLine: { show: false },
      axisTick: { ...tickStyle, customValues: P.yTicks },
      axisLabel: { show: P.yLabels, customValues: P.yTicks, formatter: minus, fontSize: 12.5, margin: 5, ...axisFont },
    });
    yAxis.push({
      type: "value", gridIndex: gi, min: P.ymin, max: P.ymax, position: "right",
      axisLine: noLine, splitLine: { show: false },
      axisTick: { ...tickStyle, customValues: P.yTicks }, axisLabel: { show: false },
    });
    series.push({
      type: "scatter", xAxisIndex: xi, yAxisIndex: yi, z: 1, silent: true,
      symbolSize: 2, itemStyle: { color: "#b195d6", opacity: 0.85 }, data: pairs(P.purple),
    });
    series.push({
      type: "line", xAxisIndex: xi, yAxisIndex: yi, z: 2, silent: true, smooth: 0.4, showSymbol: false, symbol: "none",
      lineStyle: { color: "#1e8a3c", width: 2 }, data: P.cx.map((x, i) => [x, P.cy[i]]),
    });
    series.push({
      type: "scatter", xAxisIndex: xi, yAxisIndex: yi, z: 3, silent: true, symbolSize: 7,
      itemStyle: { color: "rgba(140,214,140,0.75)", borderColor: "#2e9a44", borderWidth: 1.2 }, data: pairs(P.green),
    });
    txt(P.name, P.nx, P.ny, { bold: true, size: 12.5, align: P.na });
  });
  txt("Gene expression", 611, 645, { rot: Math.PI / 2, size: 13.5 });
  txt("Gene expression", 12, 833, { rot: Math.PI / 2, size: 13.5 });
  [117, 311, 506, 701].forEach((x) => txt("Age (years)", x, 957, { size: 13 }));

  // panel letters
  [["A", 3, 9], ["B", 3, 402], ["C", 604, 401], ["D", 604, 585], ["E", 2, 770], ["F", 208, 770], ["G", 410, 770], ["H", 603, 770]].forEach(
    ([t, x, y]: any) => txt(t, x, y, { bold: true, size: 15, align: "left" })
  );

  return {
    animation: false,
    backgroundColor: "#ffffff",
    textStyle: { fontFamily: FONT },
    grid, xAxis, yAxis, series, graphic,
  };
}

export default function App() {
  const ref = useRef<HTMLDivElement>(null);
  useEffect(() => {
    if (!ref.current) return;
    const chart = echarts.init(ref.current, undefined, { renderer: "svg" });
    chart.setOption(buildOption() as any);
    return () => chart.dispose();
  }, []);
  return <div ref={ref} style={{ position: "absolute", left: 0, top: 0, width: 786, height: 965 }} />;
}
